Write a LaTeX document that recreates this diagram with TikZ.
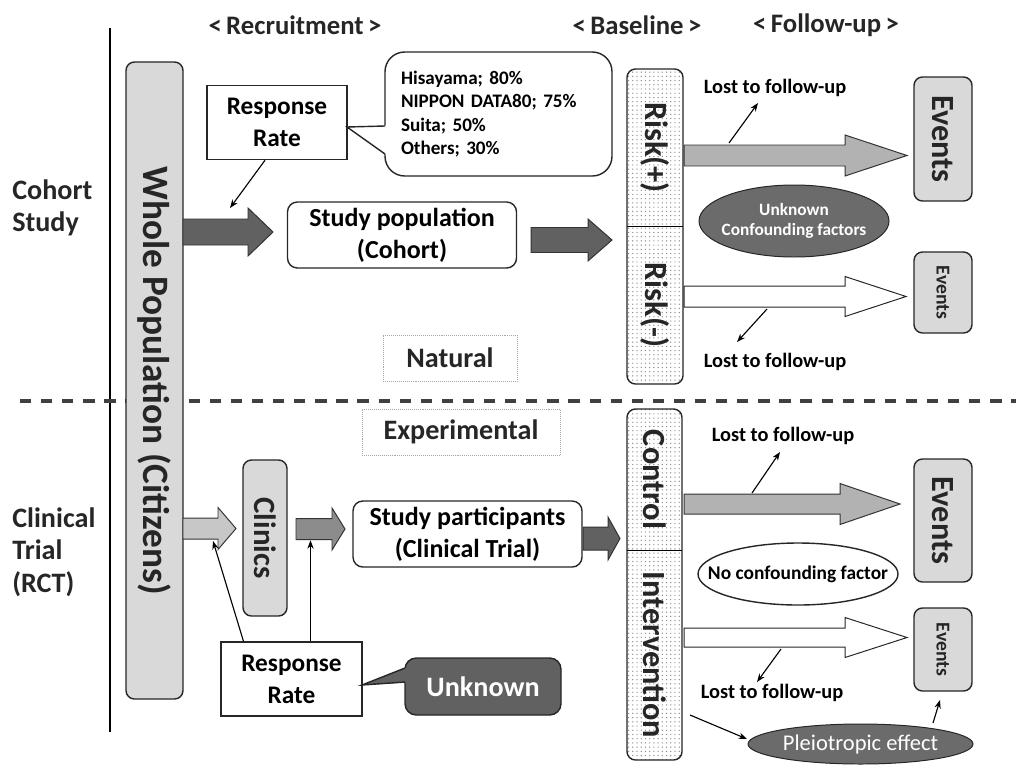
\documentclass[tikz,border=0pt]{standalone}
\usepackage{fontspec}
\setmainfont{Carlito}
\usetikzlibrary{arrows.meta,patterns,calc}
\frenchspacing

\newcommand{\px}{0.025cm}
\newcommand{\fs}[2]{\fontsize{#1}{#2}\selectfont}
% block arrow: [style]{x start}{x tip}{y}{shaft half}{head half}{head length}
\newcommand{\fatarrow}[7][]{%
  \draw[#1] (#2,#4-#5) -- (#3-#7,#4-#5) -- (#3-#7,#4-#6) -- (#3,#4)
    -- (#3-#7,#4+#6) -- (#3-#7,#4+#5) -- (#2,#4+#5) -- cycle;}

\tikzset{
  boxline/.style={line width=1pt, draw=black!85},
  ratebox/.style={boxline, fill=white, align=center, font=\fs{18}{22.7}\bfseries,
    minimum width=140*\px, minimum height=74*\px},
  popbox/.style={boxline, fill=white, rounded corners=7pt, align=center,
    font=\fs{18.5}{22.7}\bfseries, minimum width=229*\px, minimum height=66*\px},
  greybar/.style={boxline, fill=black!15, rounded corners=6pt, rotate=-90,
    text=black!85, inner sep=0pt},
  dotcol/.style={boxline, rounded corners=6pt, preaction={fill=white},
    pattern=dots, pattern color=black!45},
  collbl/.style={rotate=-90, text=black!85, font=\fs{23}{24}\bfseries},
  colhead/.style={font=\fs{19}{20}\bfseries, text=black!85},
  sidelbl/.style={anchor=west, align=left, inner sep=0pt, font=\fs{20}{23}\bfseries, text=black!85},
  lostlbl/.style={font=\fs{14.5}{16}\bfseries},
  faintbox/.style={draw=black!35, densely dotted, line width=0.4pt,
    font=\fs{20}{22}\bfseries, text=black!85},
  thinarr/.style={-{Stealth[length=6pt,width=4.5pt]}, line width=0.8pt},
  darkfat/.style={line width=0.7pt, draw=black!80, fill=black!62},
  midfat/.style={line width=0.7pt, draw=black!80, fill=black!45},
  lightfat/.style={line width=0.7pt, draw=black!80, fill=black!22},
  greyfat/.style={line width=0.7pt, draw=black!80, fill=black!30},
  whitefat/.style={line width=0.7pt, draw=black!85, fill=white},
  darkoval/.style={line width=0.7pt, draw=black!85, fill=black!58},
}

\begin{document}
\begin{tikzpicture}[x=\px, y=-\px]
\useasboundingbox (0,0) rectangle (1016,764);

\node[colhead] (hrecruit) at (295,25) {<\,Recruitment\,>};
\node[colhead] (hbase) at (637,25) {<\,Baseline\,>};
\node[colhead] (hfollow) at (826,25) {<\,Follow-up\,>};

\node[sidelbl] (cohortlbl) at (12,208) {Cohort\\Study};
\node[sidelbl] (rctlbl) at (12,552) {Clinical\\Trial\\(RCT)};
\draw[line width=1.2pt] (110,28) -- (110,732);
\draw[line width=2.2pt, draw=black!75, dash pattern=on 8pt off 7pt] (20,401) -- (1016,401);

\node[greybar, minimum width=637*\px, minimum height=57*\px, font=\fs{26.5}{28}\bfseries]
  (whole) at (154.5,380.5) {Whole Population (Citizens)};

% cohort study
\node[ratebox] (rate1) at (277,122.5) {Response\\Rate};
\node[boxline, fill=white, rounded corners=14pt, minimum width=227*\px, minimum height=124*\px,
  text width=195*\px, align=left, font=\fs{13.6}{16.5}\bfseries]
  (ratelist) at (498.5,114) {Hisayama; 80\%\\NIPPON DATA80; 75\%\\Suita; 50\%\\Others; 30\%};
\fill[white] (347.5,127) -- (386,125.5) -- (386,154.5) -- cycle;
\draw[boxline] (385,126) -- (347,127) -- (385,154);
\draw[thinarr] ($(rate1.south)+(-12,0)$) -- (230,208);

\fatarrow[darkfat]{183}{273}{232}{13}{24}{25}
\node[popbox] (cohortpop) at (402,235) {Study population\\(Cohort)};
\fatarrow[darkfat]{531}{612}{240}{12.5}{21}{24}

\draw[dotcol] (627,69) rectangle (683,384);
\draw[line width=0.6pt] (627,226) -- (683,226);
\node[collbl] (riskp) at (655,147.5) {Risk(+)};
\node[collbl] (riskm) at (655,305) {Risk(-)};

\fatarrow[greyfat]{684}{907}{155.5}{10.5}{20.5}{62}
\fatarrow[whitefat]{684}{906}{296.5}{10.5}{20}{61}
\node[greybar, minimum width=124*\px, minimum height=58*\px, font=\fs{23}{24}\bfseries]
  (ev1) at (943,139) {Events};
\node[greybar, minimum width=81*\px, minimum height=58*\px, font=\fs{14}{15}\bfseries]
  (ev2) at (943,292.5) {Events};

\draw[darkoval] (794,221) ellipse [x radius=95, y radius=36]
  node[text=white, align=center, font=\fs{12.3}{14.5}\bfseries] (unkconf) {Unknown\\Confounding factors};

\node[lostlbl] (lost1) at (775,88) {Lost to follow-up};
\draw[thinarr] (729,143) -- (758,103);
\node[lostlbl] (lost2) at (775,362) {Lost to follow-up};
\draw[thinarr] (767,309) -- (737,342);

\node[faintbox, minimum width=134*\px, minimum height=46*\px] (natural) at (450,358) {Natural};
\node[faintbox, minimum width=198*\px, minimum height=46*\px] (experim) at (461,432) {Experimental};

% clinical trial
\fatarrow[lightfat]{183}{236}{528.5}{10.5}{21}{18}
\node[greybar, minimum width=156*\px, minimum height=44*\px, font=\fs{22}{23}\bfseries]
  (clinics) at (265,538) {Clinics};
\fatarrow[midfat]{296}{345}{529}{10.5}{21}{13}
\node[popbox] (partic) at (467.5,534) {Study participants\\(Clinical Trial)};
\fatarrow[darkfat]{583}{620}{538.5}{11.5}{21.5}{12}

\node[ratebox, minimum width=141*\px] (rate2) at (291.5,679) {Response\\Rate};
\draw[thinarr] ($(rate2.north)+(-48,0)$) -- (213,541);
\draw[thinarr] ($(rate2.north)+(19,0)$) -- ++(0,-101);

\node[boxline, fill=black!62, rounded corners=8pt, minimum width=156*\px, minimum height=57*\px,
  text=white, font=\fs{20}{22}\bfseries] (unknown) at (483,686.5) {Unknown};
\fill[black!62] (363,685) -- (406.5,667.5) -- (406.5,682.5) -- cycle;
\draw[boxline] (405,668) -- (362,685) -- (405,682);

\draw[dotcol] (627,409) rectangle (682,760);
\draw[line width=0.6pt] (627,550) -- (682,550);
\node[collbl] (control) at (654.5,479.5) {Control};
\node[collbl] (interv) at (654.5,655) {Intervention};

\fatarrow[greyfat]{684}{900}{504}{10}{20.5}{60}
\fatarrow[whitefat]{684}{907}{637.5}{9.5}{20}{62}
\node[greybar, minimum width=123*\px, minimum height=58*\px, font=\fs{23}{24}\bfseries]
  (ev3) at (943,520.5) {Events};
\node[greybar, minimum width=83*\px, minimum height=58*\px, font=\fs{14}{15}\bfseries]
  (ev4) at (943,649.5) {Events};

\draw[boxline, fill=white] (798,574) ellipse [x radius=100, y radius=31]
  node[font=\fs{13.8}{15}\bfseries] (nocf) {No confounding factor};

\node[lostlbl] (lost3) at (783,436) {Lost to follow-up};
\draw[thinarr] (752,493) -- (780,452);
\node[lostlbl] (lost4) at (772,693) {Lost to follow-up};
\draw[thinarr] (781,649) -- (757,682);

\draw[darkoval] (860.5,744) ellipse [x radius=112.5, y radius=20]
  node[text=white, font=\fs{16}{17}] (pleio) {Pleiotropic effect};
\draw[thinarr] (690,715) -- (747,739);
\draw[thinarr] (933,723) -- (940,700);
\end{tikzpicture}
\end{document}
